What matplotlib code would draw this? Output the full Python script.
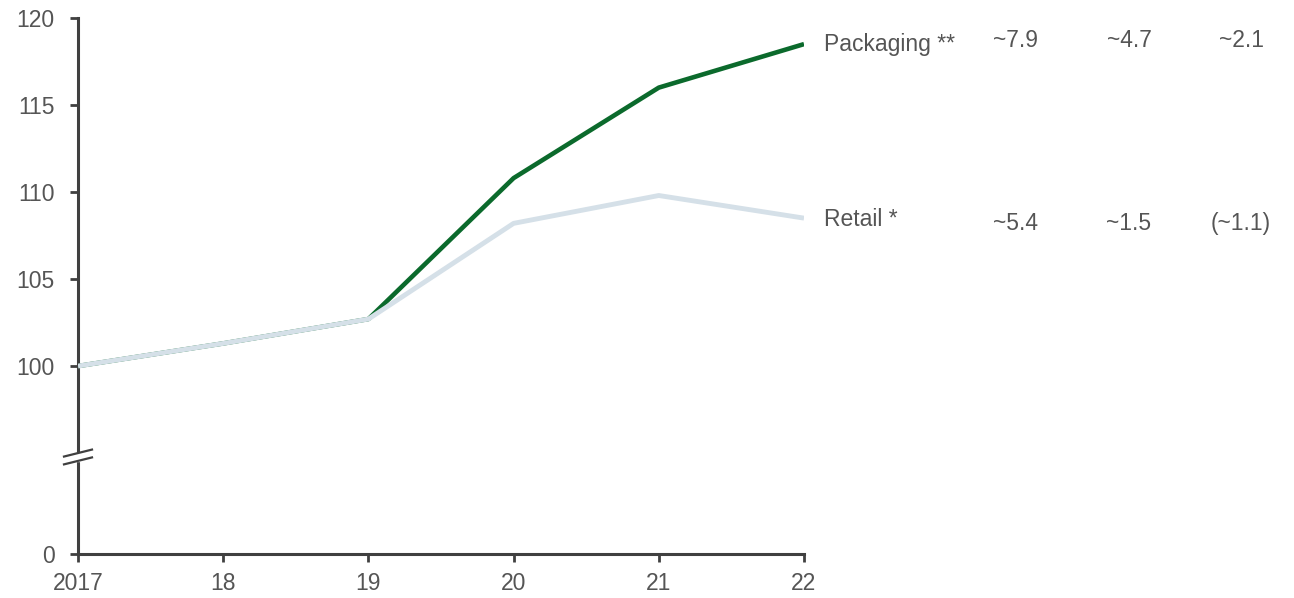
import matplotlib
matplotlib.use("Agg")
import matplotlib.pyplot as plt
import matplotlib.transforms as mtransforms

plt.rcParams['font.family'] = ['Liberation Sans', 'DejaVu Sans']

years = [2017, 2018, 2019, 2020, 2021, 2022]
year_labels = ["2017", "18", "19", "20", "21", "22"]
packaging = [100.0, 101.3, 102.7, 110.8, 116.0, 118.5]
retail = [100.0, 101.3, 102.7, 108.2, 109.8, 108.5]
series_labels = ["Packaging **", "Retail *"]
col_packaging = ["~7.9", "~4.7", "~2.1"]
col_retail = ["~5.4", "~1.5", "(~1.1)"]
ytick_values = [0, 100, 105, 110, 115, 120]

ZERO_POS = 89.2  # display position of the broken-axis zero
def ymap(v):
    return ZERO_POS if v == 0 else v

GREEN = "#0b6a2c"
LIGHT = "#d5e0e8"
AXC = "#404040"
TXT = "#555555"
FS = 16.5

fig = plt.figure(figsize=(12.94, 5.98), dpi=100)
ax = fig.add_axes([78/1294, 1-554/598, (804-78)/1294, (554-18)/598])

ax.plot(years, packaging, color=GREEN, lw=3.3, solid_capstyle='butt', zorder=3)
ax.plot(years, retail, color=LIGHT, lw=3.5, solid_capstyle='butt', zorder=4)

ax.set_xlim(2017, 2022)
ax.set_ylim(ZERO_POS, 120)
ax.set_xticks(years)
ax.set_xticklabels(year_labels)
ax.set_yticks([ymap(v) for v in ytick_values])
ax.set_yticklabels([str(v) for v in ytick_values])

for s in ['top', 'right']:
    ax.spines[s].set_visible(False)
for s in ['left', 'bottom']:
    ax.spines[s].set_color(AXC)
    ax.spines[s].set_linewidth(2.2)
ax.tick_params(axis='both', colors=AXC, width=2, length=6, labelsize=FS, labelcolor=TXT)
ax.tick_params(axis='x', pad=7)
ax.tick_params(axis='y', pad=11)

# axis break marks
tr = mtransforms.blended_transform_factory(ax.transAxes, ax.transData)
dx = 14/726
ax.fill_between([-0.01, 0.01], [94.55, 94.55], [95.0, 95.0], color='white',
                transform=tr, clip_on=False, zorder=5)
for yc in (94.55, 95.0):
    ax.plot([-dx, dx], [yc - 0.2, yc + 0.2], color=AXC, lw=1.6,
            transform=tr, clip_on=False, zorder=6)

# right-side labels
trf = mtransforms.blended_transform_factory(fig.transFigure, ax.transData)
ax.text(824/1294, packaging[-1], series_labels[0], transform=trf, ha='left', va='center',
        fontsize=FS, color=TXT)
ax.text(824/1294, retail[-1] - 0.1, series_labels[1], transform=trf, ha='left', va='center',
        fontsize=FS, color=TXT)
col_x = [1016, 1129, 1241]
for xc, t in zip(col_x, col_packaging):
    ax.text(xc/1294, packaging[-1] + 0.2, t, transform=trf, ha='center', va='center',
            fontsize=FS, color=TXT)
for xc, t in zip(col_x, col_retail):
    ax.text(xc/1294, retail[-1] - 0.3, t, transform=trf, ha='center', va='center',
            fontsize=FS, color=TXT)

fig.savefig("out.png", dpi=100)
